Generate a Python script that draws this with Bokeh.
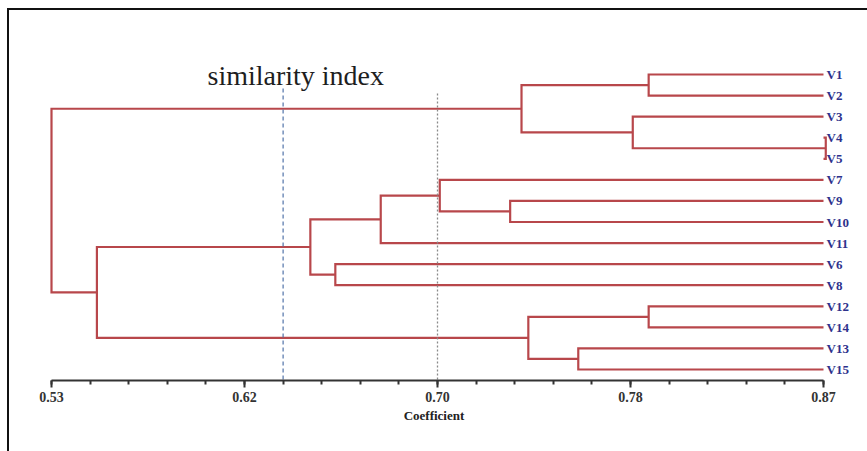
from bokeh.plotting import figure
from bokeh.models import Range1d, FixedTicker, Label, ColumnDataSource, InlineStyleSheet
from bokeh.core.properties import value
from bokeh.embed import file_html
from bokeh.resources import INLINE

# ---------------- data ----------------
leaves = ["V1", "V2", "V3", "V4", "V5", "V7", "V9", "V10", "V11",
          "V6", "V8", "V12", "V14", "V13", "V15"]
leaf_height = 0.87

merge_left = ["V1", "V4", "V3", "C1", "V9", "V7", "C6", "V6", "C7",
              "V12", "V13", "C10", "C9", "C4"]
merge_right = ["V2", "V5", "C2", "C3", "V10", "C5", "V11", "V8", "C8",
               "V14", "V15", "C11", "C12", "C13"]
merge_height = [0.793, 0.871, 0.786, 0.737, 0.732, 0.701, 0.675, 0.655,
                0.644, 0.793, 0.762, 0.740, 0.550, 0.530]

thresholds = [0.632, 0.70]
tick_values = [0.53, 0.615, 0.70, 0.785, 0.87]
tick_labels = ["0.53", "0.62", "0.70", "0.78", "0.87"]
minor_step = 0.017
n_minor = 20

# ---------------- geometry from linkage ----------------
pos = {name: (leaf_height, float(i)) for i, name in enumerate(leaves)}
xs, ys = [], []
for k, (a, b, h) in enumerate(zip(merge_left, merge_right, merge_height)):
    xa, ya = pos[a]
    xb, yb = pos[b]
    xs.append([xa, h, h, xb])
    ys.append([ya, ya, yb, yb])
    pos["C%d" % (k + 1)] = (h, (ya + yb) / 2.0)

# ---------------- figure ----------------
px_per_unit = 772 / 0.34
W, H = 867, 451
x0 = 0.53 - 51 / px_per_unit
x1 = x0 + W / px_per_unit
y_top = -3.512
y_bot = 14.522

border_css = InlineStyleSheet(css="""
:host::after {
  content: "";
  position: absolute;
  left: 7px;
  top: 8px;
  width: calc(100% - 7px);
  height: calc(100% - 8px);
  box-sizing: border-box;
  border-left: 2px solid #111;
  border-top: 2px solid #111;
  pointer-events: none;
  z-index: 10;
}
""")

p = figure(width=W, height=H, x_range=Range1d(x0, x1), y_range=Range1d(y_bot, y_top),
           output_backend="svg", toolbar_location=None,
           x_axis_location="below", y_axis_location=None,
           min_border_left=0, min_border_right=0, min_border_top=0, min_border_bottom=71,
           stylesheets=[border_css])
p.outline_line_color = None
p.xgrid.visible = False
p.ygrid.visible = False
p.background_fill_color = "white"
p.border_fill_color = "white"

# dendrogram
p.multi_line(xs=xs, ys=ys, line_color="#b8474b", line_width=2.2, line_join="miter")

# threshold lines
p.segment(x0=[thresholds[0]], y0=[0.66], x1=[thresholds[0]], y1=[y_bot],
          line_color="#5072a8", line_width=1.2, line_dash="4 3")
p.segment(x0=[thresholds[1]], y0=[0.90], x1=[thresholds[1]], y1=[y_bot],
          line_color="#8a8a8a", line_width=1.3, line_dash="2 2")

# leaf labels
src = ColumnDataSource(dict(x=[leaf_height] * len(leaves), y=list(range(len(leaves))), t=leaves))
p.text(x="x", y="y", text="t", source=src, x_offset=3, text_baseline="middle",
       text_font=value("Liberation Serif"), text_font_style="bold",
       text_font_size="13px", text_color="#2e318c")

# similarity index text
p.add_layout(Label(x=0.5987, y=0.05, text="similarity index", text_baseline="alphabetic",
                   text_font="Liberation Serif", text_font_size="28px", text_color="#1e1e1e"))

# axis
ax = p.xaxis[0]
minor = [0.53 + k * minor_step for k in range(n_minor + 1)]
ax.ticker = FixedTicker(ticks=tick_values, minor_ticks=minor)
ax.major_label_overrides = {v: l for v, l in zip(tick_values, tick_labels)}
ax.bounds = (0.53, 0.87)
ax.axis_line_width = 2
ax.axis_line_color = "#333333"
ax.major_tick_in = 0
ax.major_tick_out = 7
ax.minor_tick_in = 0
ax.minor_tick_out = 4
ax.major_tick_line_width = 2
ax.minor_tick_line_width = 2
ax.major_tick_line_color = "#333333"
ax.minor_tick_line_color = "#333333"
ax.major_label_text_font = "Liberation Serif"
ax.major_label_text_font_style = "bold"
ax.major_label_text_font_size = "14px"
ax.major_label_text_color = "#333333"
ax.major_label_standoff = 4
ax.axis_label = "Coefficient"
ax.axis_label_text_font = "Liberation Serif"
ax.axis_label_text_font_style = "bold"
ax.axis_label_text_font_size = "13px"
ax.axis_label_text_color = "#222222"
ax.axis_label_standoff = 3

open("out.html", "w").write(file_html(p, INLINE))
